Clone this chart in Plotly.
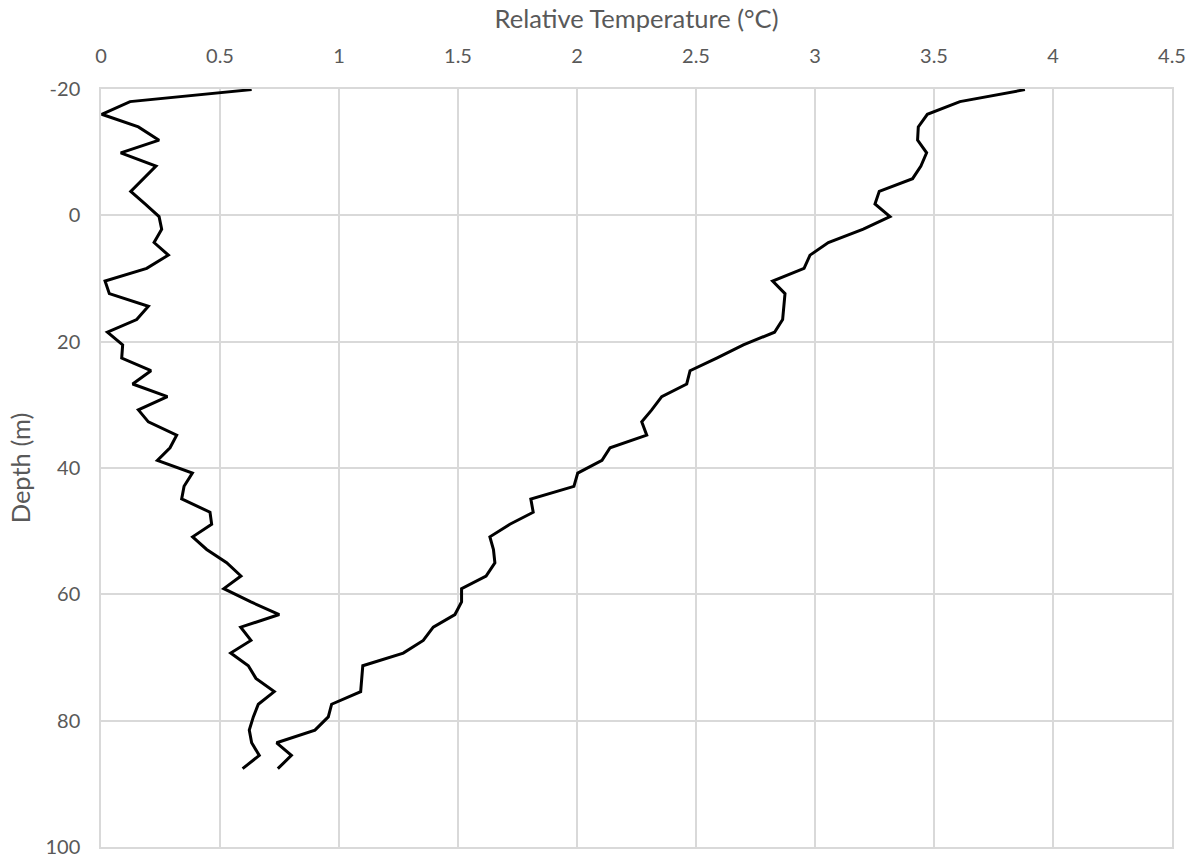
import plotly.graph_objects as go

# Sample depths (m), shared by both profiles
depth = [-19.9, -18.0, -16.0, -14.0, -11.9, -9.9, -7.8, -5.8, -3.8, -1.8,
         0.2, 2.2, 4.3, 6.3, 8.4, 10.4, 12.4, 14.4, 16.5, 18.5,
         20.5, 22.6, 24.6, 26.7, 28.7, 30.8, 32.7, 34.8, 36.8, 38.8,
         40.8, 42.9, 44.9, 47.0, 48.9, 50.9, 52.9, 55.0, 57.1, 59.1,
         61.2, 63.2, 65.2, 67.3, 69.3, 71.3, 73.3, 75.4, 77.4, 79.4,
         81.5, 83.5, 85.5, 87.6]

# Relative temperature profiles (°C)
profile_a = [0.633, 0.122, 0.003, 0.157, 0.244, 0.083, 0.231, 0.178, 0.125, 0.185,
             0.244, 0.255, 0.223, 0.283, 0.192, 0.017, 0.035, 0.199, 0.150, 0.027,
             0.091, 0.087, 0.210, 0.133, 0.279, 0.157, 0.199, 0.318, 0.290, 0.237,
             0.384, 0.349, 0.339, 0.458, 0.465, 0.385, 0.444, 0.528, 0.588, 0.516,
             0.630, 0.749, 0.587, 0.630, 0.545, 0.619, 0.651, 0.728, 0.661, 0.640,
             0.623, 0.633, 0.665, 0.595]

profile_b = [3.882, 3.609, 3.472, 3.434, 3.431, 3.469, 3.445, 3.410, 3.270, 3.252,
             3.315, 3.203, 3.056, 2.979, 2.954, 2.822, 2.874, 2.870, 2.864, 2.830,
             2.699, 2.587, 2.475, 2.461, 2.356, 2.314, 2.272, 2.293, 2.139, 2.105,
             2.003, 1.987, 1.806, 1.816, 1.718, 1.634, 1.649, 1.655, 1.618, 1.515,
             1.515, 1.487, 1.396, 1.354, 1.270, 1.100, 1.095, 1.091, 0.969, 0.955,
             0.899, 0.738, 0.800, 0.743]

x_ticks = [0, 0.5, 1, 1.5, 2, 2.5, 3, 3.5, 4, 4.5]
x_labels = ["0", "0.5", "1", "1.5", "2", "2.5", "3", "3.5", "4", "4.5"]
y_ticks = [-20, 0, 20, 40, 60, 80, 100]
y_labels = ["-20", "0", "20", "40", "60", "80", "100"]

FONT = "Lato, 'Open Sans', sans-serif"
GREY = "#595959"
GRID = "#d9d9d9"

fig = go.Figure()
for prof in (profile_a, profile_b):
    fig.add_trace(go.Scatter(
        x=prof, y=depth, mode="lines",
        line=dict(color="black", width=3),
        showlegend=False, hoverinfo="skip",
    ))

fig.update_layout(
    width=1195, height=859,
    margin=dict(l=101, r=23, t=89, b=12, autoexpand=False),
    paper_bgcolor="white", plot_bgcolor="white",
    font=dict(family=FONT, color=GREY, size=20),
)

fig.update_xaxes(
    side="top", range=[0, 4.5], automargin=False,
    tickvals=x_ticks, ticktext=x_labels,
    showgrid=True, gridcolor=GRID, gridwidth=1.5,
    zeroline=False, showline=True, linecolor=GRID, linewidth=1.5, mirror=True,
    ticks="", ticklabelstandoff=16,
    tickfont=dict(size=20, color=GREY, family=FONT),
    title=dict(text="Relative Temperature (°C)", standoff=7,
               font=dict(size=25.5, color=GREY, family=FONT)),
)

fig.update_yaxes(
    range=[100, -20], automargin=False,
    tickvals=y_ticks, ticktext=y_labels,
    showgrid=True, gridcolor=GRID, gridwidth=1.5,
    zeroline=False, showline=True, linecolor=GRID, linewidth=1.5, mirror=True,
    ticks="", ticklabelstandoff=15,
    tickfont=dict(size=20, color=GREY, family=FONT),
    title=dict(text="Depth (m)", standoff=8,
               font=dict(size=25.5, color=GREY, family=FONT)),
)

fig.write_html("out.html")
